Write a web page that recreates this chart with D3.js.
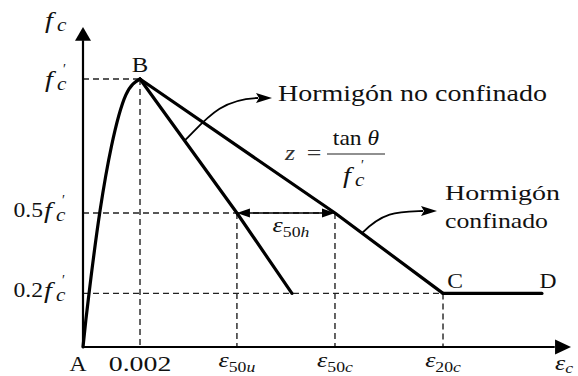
<!DOCTYPE html>
<html>
<head>
<meta charset="utf-8">
<script src="https://cdn.jsdelivr.net/npm/d3@7"></script>
<style>
  html, body { margin: 0; padding: 0; background: #fff; }
  svg { display: block; }
</style>
</head>
<body>
<script>
// Kent–Park stress–strain model for concrete (unconfined vs. confined)

// strain values of the marked points on the horizontal axis
const strainTickValues = [0.002, 0.0054, 0.00884, 0.01263];
const strainTickLabels = [
  { main: "0.002" },
  { main: "ε", sub: "50", subIt: "u" },
  { main: "ε", sub: "50", subIt: "c" },
  { main: "ε", sub: "20", subIt: "c" }
];
// stress levels (fraction of f'c) marked on the vertical axis
const stressLevels = [1, 0.5, 0.2];
const stressLabels = ["", "0.5", "0.2"];

// branches of the model: [strain, stress / f'c]
const ascendingBranch = [[0, 0], [0.0001, 0.1], [0.0002, 0.19], [0.0006, 0.51], [0.001, 0.75], [0.0015, 0.94], [0.002, 1]];
const unconfinedBranch = [[0.002, 1], [0.0054, 0.5], [0.00733, 0.2]];
const confinedBranch = [[0.002, 1], [0.00884, 0.5], [0.01263, 0.2]];
const residualPlateau = [[0.01263, 0.2], [0.0161, 0.2]];

const W = 578, H = 376;
const SX = 1.18; // horizontal stretch applied to the serif text
const SERIF = '"Liberation Serif", Tinos, "Times New Roman", serif';

const svg = d3.select("body").append("svg")
  .attr("width", W).attr("height", H)
  .attr("viewBox", `0 0 ${W} ${H}`);

const x = d3.scaleLinear().domain([0, 0.01712]).range([83, 571]);
const y = d3.scaleLinear().domain([0, 1]).range([347, 79]);

// ---------- guide lines (dashed) ----------
const guides = svg.append("g")
  .attr("stroke", "#222").attr("stroke-width", 1.4)
  .attr("stroke-dasharray", "6,4").attr("fill", "none");

// horizontal guides: each stress level runs to the point where it is reached
const levelEnds = [0.002, strainTickValues[2], strainTickValues[3]];
stressLevels.forEach((s, i) => {
  guides.append("line")
    .attr("x1", x(0)).attr("x2", x(levelEnds[i]))
    .attr("y1", y(s)).attr("y2", y(s));
});
// vertical guides down to the strain axis
const tickTops = [1, 0.5, 0.5, 0.2];
strainTickValues.forEach((e, i) => {
  guides.append("line")
    .attr("x1", x(e)).attr("x2", x(e))
    .attr("y1", y(tickTops[i])).attr("y2", y(0));
});

// ---------- axes with arrowheads ----------
const axes = svg.append("g");
axes.append("line")
  .attr("x1", x(0)).attr("x2", x(0))
  .attr("y1", y(0)).attr("y2", y(1.145))
  .attr("stroke", "#000").attr("stroke-width", 2.2);
axes.append("line")
  .attr("x1", x(0)).attr("x2", x(0.01655))
  .attr("y1", y(0)).attr("y2", y(0))
  .attr("stroke", "#000").attr("stroke-width", 2.2);
axes.append("path")
  .attr("d", `M${x(0)},${y(1.194)} L${x(0) + 8},${y(1.143)} L${x(0) - 8},${y(1.143)} Z`)
  .attr("fill", "#000");
axes.append("path")
  .attr("d", `M${x(0.01712)},${y(0)} L${x(0.01656)},${y(0) - 7.5} L${x(0.01656)},${y(0) + 7.5} Z`)
  .attr("fill", "#000");

// ---------- model curves ----------
const curves = svg.append("g")
  .attr("fill", "none").attr("stroke", "#000")
  .attr("stroke-width", 3.2).attr("stroke-linejoin", "round").attr("stroke-linecap", "round");

const smooth = d3.line().x(d => x(d[0])).y(d => y(d[1])).curve(d3.curveMonotoneX);
const straight = d3.line().x(d => x(d[0])).y(d => y(d[1]));

curves.append("path").attr("d", smooth(ascendingBranch));
curves.append("path").attr("d", straight(unconfinedBranch));
curves.append("path").attr("d", straight(confinedBranch));
curves.append("path").attr("d", straight(residualPlateau));

// ---------- ε50h dimension arrow ----------
const dim = svg.append("g");
const dx1 = x(strainTickValues[1]), dx2 = x(strainTickValues[2]), dy0 = y(0.5);
dim.append("line")
  .attr("x1", dx1 + 8).attr("x2", dx2 - 8)
  .attr("y1", dy0).attr("y2", dy0)
  .attr("stroke", "#000").attr("stroke-width", 1.6);
dim.append("path")
  .attr("d", `M${dx1},${dy0} L${dx1 + 13},${dy0 - 4.5} L${dx1 + 13},${dy0 + 4.5} Z`)
  .attr("fill", "#000");
dim.append("path")
  .attr("d", `M${dx2},${dy0} L${dx2 - 13},${dy0 - 4.5} L${dx2 - 13},${dy0 + 4.5} Z`)
  .attr("fill", "#000");

// ---------- curved callout arrows ----------
function pointOn(branch, s) {
  for (let i = 0; i < branch.length - 1; i++) {
    const [e0, s0] = branch[i], [e1, s1] = branch[i + 1];
    if ((s - s0) * (s - s1) <= 0) {
      const t = (s - s0) / (s1 - s0);
      return [x(e0 + t * (e1 - e0)), y(s)];
    }
  }
  return [x(branch[0][0]), y(branch[0][1])];
}
function callout(start, end) {
  const [sx, sy] = start, [ex, ey] = end;
  const base = ex - 16;
  const g = svg.append("g");
  g.append("path")
    .attr("d", `M${sx},${sy} C${sx + 22},${sy - 22} ${sx + 36},${ey + 1} ${base + 2},${ey}`)
    .attr("fill", "none").attr("stroke", "#000").attr("stroke-width", 1.8);
  g.append("path")
    .attr("d", `M${ex},${ey} L${base},${ey - 5} L${base + 3},${ey} L${base},${ey + 5} Z`)
    .attr("fill", "#000");
}
callout(pointOn(unconfinedBranch, 0.77), [272, 98]);
callout(pointOn(confinedBranch, 0.425), [437, 211]);

// ---------- text helpers ----------
function label(px, py, parts, opts = {}) {
  const g = svg.append("g").attr("transform", `translate(${px},${py}) scale(${opts.sx || SX},1)`);
  const t = g.append("text")
    .style("font-family", SERIF)
    .attr("font-size", opts.size || 20)
    .attr("text-anchor", opts.anchor || "start")
    .attr("fill", opts.fill || "#111");
  if (opts.textLength) t.attr("textLength", opts.textLength).attr("lengthAdjust", "spacingAndGlyphs");
  parts.forEach(p => {
    const s = t.append("tspan").text(p.t);
    if (p.it) s.attr("font-style", "italic");
    if (p.size) s.attr("font-size", p.size);
    if (p.dy) s.attr("dy", p.dy);
    if (p.dx) s.attr("dx", p.dx);
  });
  return t;
}
// f'c symbol (prime and subscript c)
function fcSymbol(px, py, prime) {
  label(px, py, [{ t: "f", it: true, size: 24 }]);
  label(px + 12, py + 3, [{ t: "c", it: true, size: 18 }]);
  if (prime) label(px + 18, py - 13, [{ t: "′", size: 14 }], { sx: 1 });
}

// vertical axis title
fcSymbol(45, 28, false);

// stress level labels
stressLevels.forEach((s, i) => {
  const ly = y(s);
  if (stressLabels[i]) {
    label(43, ly + 4, [{ t: stressLabels[i] }], { anchor: "end", size: 20 });
    fcSymbol(44, ly + 5, true);
  } else {
    fcSymbol(45, ly + 8, true);
  }
});

// strain tick labels
strainTickValues.forEach((e, i) => {
  const L = strainTickLabels[i];
  if (!L.sub) {
    label(x(e), 371, [{ t: L.main }], { anchor: "middle", size: 20, textLength: 53 });
  } else {
    label(x(e), 367, [
      { t: L.main, it: true, size: 22 },
      { t: L.sub, size: 15, dy: 5 },
      { t: L.subIt, it: true, size: 15 }
    ], { anchor: "middle" });
  }
});
// horizontal axis title
label(555, 370, [{ t: "ε", it: true, size: 22 }, { t: "c", it: true, size: 15, dy: 3 }]);

// point names
label(x(0) - 5, 371, [{ t: "A" }], { anchor: "middle", size: 20 });
label(x(0.002), 72, [{ t: "B" }], { anchor: "middle", size: 21 });
label(x(residualPlateau[0][0]) + 12, 288, [{ t: "C" }], { anchor: "middle", size: 20 });
label(x(residualPlateau[1][0]) + 6, 288, [{ t: "D" }], { anchor: "middle", size: 20 });

// ε50h label under the dimension arrow
label((dx1 + dx2) / 2 + 5, 232, [
  { t: "ε", it: true, size: 22 },
  { t: "50", size: 15, dy: 5 },
  { t: "h", it: true, size: 15 }
], { anchor: "middle" });

// annotations
label(278, 101, [{ t: "Hormigón no confinado" }], { sx: 1, size: 24, textLength: 269 });
label(445, 200, [{ t: "Hormigón" }], { sx: 1, size: 22, textLength: 115 });
label(445, 228, [{ t: "confinado" }], { sx: 1, size: 22, textLength: 103 });

// z = tanθ / f'c
label(285, 160, [{ t: "z", it: true }], { size: 22, fill: "#333" });
label(314, 160, [{ t: "=" }], { anchor: "middle", size: 22, fill: "#333" });
svg.append("line")
  .attr("x1", 327).attr("x2", 385).attr("y1", 154).attr("y2", 154)
  .attr("stroke", "#222").attr("stroke-width", 1.1);
label(356, 145, [{ t: "tan " }, { t: "θ", it: true }], { anchor: "middle", size: 20 });
fcSymbol(343, 183, true);
</script>
</body>
</html>
